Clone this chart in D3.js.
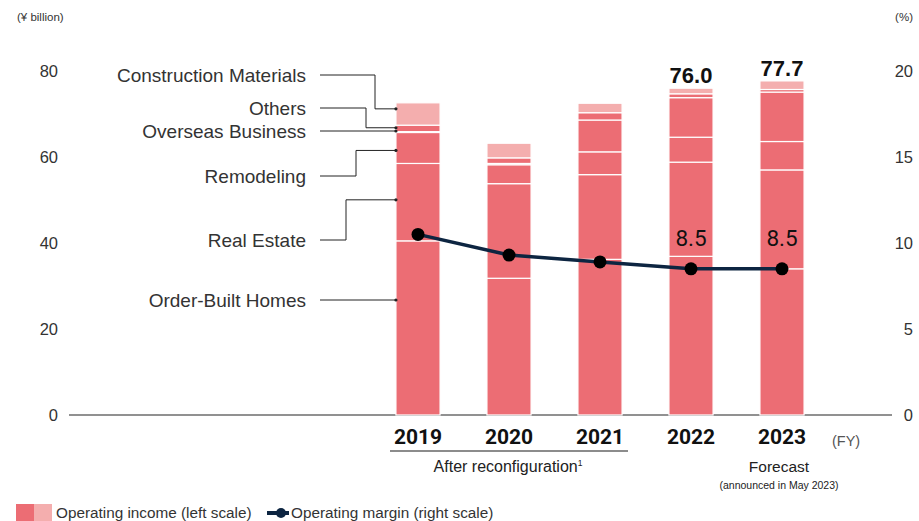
<!DOCTYPE html>
<html>
<head>
<meta charset="utf-8">
<script src="https://cdn.jsdelivr.net/npm/d3@7"></script>
<style>
  body { margin: 0; background: #fff; }
  text { font-family: "Liberation Sans", Arial, sans-serif; }
</style>
</head>
<body>
<div class="container"></div>
<script>
// datos
const years = ["2019", "2020", "2021", "2022", "2023"]
const orderBuilt = [40.5, 31.8, 36.2, 36.9, 34.0]
const realEstate = [18.0, 22.0, 19.7, 21.9, 23.0]
const remodeling = [7.2, 4.4, 5.3, 5.8, 6.6]
const overseas = [0.2, 0.3, 7.4, 9.2, 11.5]
const others = [1.5, 1.3, 1.7, 0.9, 0.6]
const constructionMaterials = [5.2, 3.4, 2.2, 1.3, 2.0]
const opMargin = [10.5, 9.3, 8.9, 8.5, 8.5]
const totalLabels = ["", "", "", "76.0", "77.7"]
const marginLabels = ["", "", "", "8.5", "8.5"]
const leftTicks = [0, 20, 40, 60, 80]
const rightTicks = [0, 5, 10, 15, 20]
const segNames = ["Order-Built Homes", "Real Estate", "Remodeling", "Overseas Business", "Others", "Construction Materials"]

const width = 919
const height = 521

const svg = d3.select(".container").append("svg").attr("width", width).attr("height", height)

const x = d3.scaleBand().domain(years).range([372.5, 827.5]).paddingInner(0.515).paddingOuter(0.2575)
const y = d3.scaleLinear().domain([0, 80]).range([415, 71])
const yR = d3.scaleLinear().domain([0, 20]).range([415, 71])

// tabla para el stack
const keys = ["ob", "re", "rm", "os", "ot", "cm"]
const table = years.map((yr, i) => ({
    year: yr, ob: orderBuilt[i], re: realEstate[i], rm: remodeling[i],
    os: overseas[i], ot: others[i], cm: constructionMaterials[i]
}))
const series = d3.stack().keys(keys)(table)
const color = k => k == "cm" ? "#F4AEAE" : "#EC6D74"

// eje base
svg.append("line").attr("x1", 69).attr("x2", 892).attr("y1", y(0)).attr("y2", y(0))
    .attr("stroke", "#6d6d6d").attr("stroke-width", 1.3)

// barras
svg.append("g").selectAll("g").data(series).join("g")
    .attr("fill", d => color(d.key))
    .selectAll("rect").data(d => d).join("rect")
    .attr("x", d => x(d.data.year))
    .attr("width", x.bandwidth())
    .attr("y", d => y(d[1]))
    .attr("height", d => y(d[0]) - y(d[1]))
    .attr("stroke", "#fff").attr("stroke-width", 1.2)

// ticks
svg.append("g").selectAll("text").data(leftTicks).join("text")
    .attr("x", 58).attr("y", d => y(d)).attr("dy", "0.36em")
    .attr("text-anchor", "end").attr("font-size", 16.5).attr("fill", "#333")
    .text(d => d)
svg.append("g").selectAll("text").data(rightTicks).join("text")
    .attr("x", 913).attr("y", d => yR(d)).attr("dy", "0.36em")
    .attr("text-anchor", "end").attr("font-size", 16.5).attr("fill", "#333")
    .text(d => d)

svg.append("text").attr("x", 17).attr("y", 21).attr("font-size", 11.5).attr("fill", "#333").text("(¥ billion)")
svg.append("text").attr("x", 913).attr("y", 21).attr("text-anchor", "end").attr("font-size", 11.5).attr("fill", "#333").text("(%)")

// años
svg.append("g").selectAll("text").data(years).join("text")
    .attr("x", d => x(d) + x.bandwidth() / 2).attr("y", 444)
    .attr("text-anchor", "middle").attr("font-size", 21).attr("font-weight", 700)
    .style("font-family", "Roboto, sans-serif").attr("fill", "#111")
    .text(d => d)
svg.append("text").attr("x", 832).attr("y", 446).attr("font-size", 14.5).attr("fill", "#555").text("(FY)")

svg.append("line").attr("x1", 390).attr("x2", 628).attr("y1", 451).attr("y2", 451)
    .attr("stroke", "#666").attr("stroke-width", 1.5)
const after = svg.append("text").attr("x", x("2020") + x.bandwidth() / 2 - 1).attr("y", 472)
    .attr("text-anchor", "middle").attr("font-size", 16).attr("fill", "#222")
after.append("tspan").text("After reconfiguration")
after.append("tspan").attr("font-size", 8.5).attr("dy", -6).text("1")
svg.append("text").attr("x", x("2023") + x.bandwidth() / 2 - 3).attr("y", 472)
    .attr("text-anchor", "middle").attr("font-size", 15.5).attr("fill", "#222").text("Forecast")
svg.append("text").attr("x", x("2023") + x.bandwidth() / 2 - 3).attr("y", 489)
    .attr("text-anchor", "middle").attr("font-size", 10.5).attr("fill", "#222").text("(announced in May 2023)")

// totales
const totals = table.map(d => keys.reduce((s, k) => s + d[k], 0))
svg.append("g").selectAll("text").data(years).join("text")
    .attr("x", d => x(d) + x.bandwidth() / 2).attr("y", (d, i) => y(totals[i]) - 5)
    .attr("text-anchor", "middle").attr("font-size", 22).attr("font-weight", 700)
    .attr("fill", "#111")
    .text((d, i) => totalLabels[i])

// linea margen
const line = d3.line().x((d, i) => x(years[i]) + x.bandwidth() / 2).y(d => yR(d))
svg.append("path").datum(opMargin).attr("d", line)
    .attr("fill", "none").attr("stroke", "#0d2541").attr("stroke-width", 3.5)
svg.append("g").selectAll("circle").data(opMargin).join("circle")
    .attr("cx", (d, i) => x(years[i]) + x.bandwidth() / 2).attr("cy", d => yR(d))
    .attr("r", 6.5).attr("fill", "#000")
svg.append("g").selectAll("text").data(opMargin).join("text")
    .attr("x", (d, i) => x(years[i]) + x.bandwidth() / 2).attr("y", d => yR(d) - 23)
    .attr("text-anchor", "middle").attr("font-size", 22.5).attr("fill", "#111")
    .style("font-family", "Roboto, sans-serif")
    .text((d, i) => marginLabels[i])

// etiquetas con lineas guia (barra 2019)
const leaders = [
    { i: 5, textY: 75, elbowX: 375, frac: 0.73 },
    { i: 4, textY: 108, elbowX: 366, frac: 0.6 },
    { i: 3, textY: 131, elbowX: null, frac: 0.5 },
    { i: 2, textY: 176, elbowX: 356, frac: 0.42 },
    { i: 1, textY: 240, elbowX: 346, frac: 0.53 },
    { i: 0, textY: 300, elbowX: null, frac: 0.66 }
]
const bx = x("2019")
const lg = svg.append("g")
leaders.forEach(l => {
    const seg = series[l.i][0]
    const ty = l.elbowX == null ? l.textY : y(seg[0] + (seg[1] - seg[0]) * l.frac)
    lg.append("text").attr("x", 306).attr("y", l.textY).attr("dy", "0.36em")
        .attr("text-anchor", "end").attr("font-size", 19).attr("fill", "#333")
        .text(segNames[l.i])
    let pts
    if (l.elbowX == null) pts = [[320, l.textY], [bx, l.textY]]
    else pts = [[320, l.textY], [l.elbowX, l.textY], [l.elbowX, ty], [bx, ty]]
    lg.append("path").attr("d", d3.line()(pts)).attr("fill", "none")
        .attr("stroke", "#222").attr("stroke-width", 1)
    lg.append("circle").attr("cx", bx).attr("cy", pts[pts.length - 1][1]).attr("r", 1.6).attr("fill", "#222")
})

// leyenda
svg.append("rect").attr("x", 16).attr("y", 504).attr("width", 18).attr("height", 17).attr("fill", "#EC6D74")
svg.append("rect").attr("x", 34).attr("y", 504).attr("width", 18).attr("height", 17).attr("fill", "#F4AEAE")
svg.append("text").attr("x", 56).attr("y", 518).attr("font-size", 15.3).attr("fill", "#333").text("Operating income (left scale)")
svg.append("line").attr("x1", 267).attr("x2", 289).attr("y1", 513).attr("y2", 513)
    .attr("stroke", "#0d2541").attr("stroke-width", 4)
svg.append("circle").attr("cx", 281).attr("cy", 513).attr("r", 5).attr("fill", "#0d2541")
svg.append("text").attr("x", 291).attr("y", 518).attr("font-size", 15.3).attr("fill", "#333").text("Operating margin (right scale)")
</script>
</body>
</html>
